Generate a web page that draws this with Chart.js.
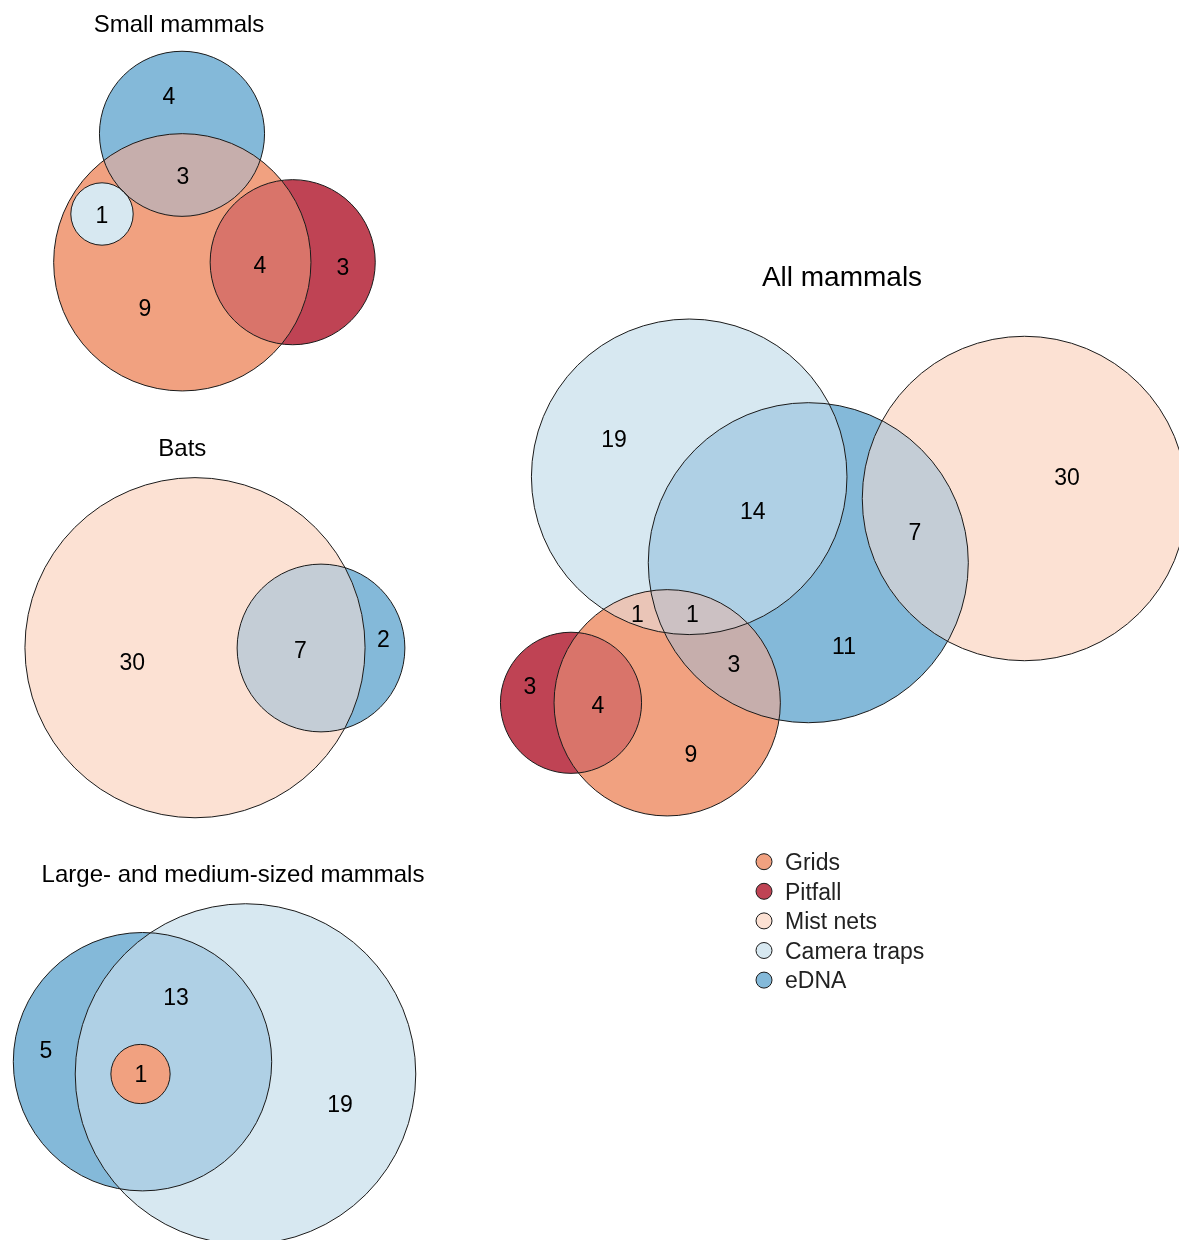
<!DOCTYPE html>
<html>
<head>
<meta charset="utf-8">
<title>Mammal species detected by survey method</title>
<script src="https://cdn.jsdelivr.net/npm/chart.js@4.4.1/dist/chart.umd.min.js"></script>
<style>
  html, body { margin: 0; padding: 0; background: #ffffff; }
  #wrap { position: relative; width: 1179px; height: 1240px; }
</style>
</head>
<body>
<div id="wrap"><canvas id="venn"></canvas></div>
<script>
// ---- data -------------------------------------------------------------
const SETS = ['Grids', 'Pitfall', 'Mist nets', 'Camera traps', 'eDNA'];
const PANEL_TITLES = ['Small mammals', 'Bats', 'Large- and medium-sized mammals', 'All mammals'];

// exclusive regions (which methods detected the species) and species counts
const smallRegionSets = [['eDNA'], ['eDNA', 'Grids'], ['Grids', 'Camera traps'], ['Grids', 'Pitfall'], ['Pitfall'], ['Grids']];
const smallRegionCounts = [4, 3, 1, 4, 3, 9];

const batRegionSets = [['Mist nets'], ['Mist nets', 'eDNA'], ['eDNA']];
const batRegionCounts = [30, 7, 2];

const largeRegionSets = [['eDNA'], ['eDNA', 'Camera traps'], ['Grids', 'eDNA', 'Camera traps'], ['Camera traps']];
const largeRegionCounts = [5, 13, 1, 19];

const allRegionSets = [
  ['Camera traps'], ['Camera traps', 'eDNA'], ['eDNA', 'Mist nets'], ['Mist nets'],
  ['Grids', 'Camera traps'], ['Grids', 'Camera traps', 'eDNA'], ['Grids', 'eDNA'], ['eDNA'],
  ['Pitfall'], ['Pitfall', 'Grids'], ['Grids']
];
const allRegionCounts = [19, 14, 7, 30, 1, 1, 3, 11, 3, 4, 9];

const REGION_SETS = [smallRegionSets, batRegionSets, largeRegionSets, allRegionSets];
const REGION_COUNTS = [smallRegionCounts, batRegionCounts, largeRegionCounts, allRegionCounts];

// ---- layout (Euler fit, plot units) -----------------------------------
const SET_COLORS = ['#F1A180', '#BF4354', '#FCE1D3', '#D7E8F1', '#84B9D9'];
const PANEL_UNIT = [31.2, 27.96, 29.64, 26.67];   // plot units per sqrt(species)
const CIRCLE_CENTRES = [
  { 'Grids': [182.3, 262.3], 'eDNA': [182, 133.8], 'Camera traps': [102, 214], 'Pitfall': [292.7, 262.2] },
  { 'Mist nets': [195, 647.7], 'eDNA': [321, 648] },
  { 'eDNA': [142.5, 1061.7], 'Camera traps': [245.5, 1074], 'Grids': [140.5, 1074] },
  { 'Camera traps': [689.2, 476.8], 'eDNA': [808.3, 562.7], 'Mist nets': [1024.5, 498.5], 'Grids': [667.2, 702.8], 'Pitfall': [571, 702.8] }
];
const LABEL_ANCHORS = [
  [[169, 96], [183, 176], [102, 215], [260, 265], [343, 267], [145, 308]],
  [[132.3, 661.5], [300.3, 649.3], [383.5, 638.3]],
  [[46, 1049.5], [176, 997], [141, 1074], [340, 1104]],
  [[614, 438.3], [752.7, 511], [915, 531.7], [1067, 477], [637.3, 613.3], [692.3, 613.3],
   [734, 663.5], [844, 646], [530, 686], [598, 705], [691, 753.5]]
];
const TITLE_ANCHORS = [[179, 31.7, 24], [182.3, 456, 24], [233, 882, 24], [842, 285.5, 28]];
const LEGEND = { x: 764, y: 861.7, step: 29.6, r: 8, textX: 785, size: 23 };
const NUM_SIZE = 23;
const FONT = '"Liberation Sans", Arial, Helvetica, sans-serif';

// species total per method in a panel = sum of the regions containing it
function setTotal(p, s) {
  return REGION_SETS[p].reduce((t, members, i) => t + (members.includes(s) ? REGION_COUNTS[p][i] : 0), 0);
}

// circle radius in pixels: area proportional to the number of species
function pxRadius(chart, raw) {
  const xs = chart.scales.x;
  if (!raw || !xs) return 0;
  const r = Math.abs(xs.getPixelForValue(raw.x + PANEL_UNIT[raw.panel] * Math.sqrt(raw.n)) - xs.getPixelForValue(raw.x));
  return Number.isFinite(r) ? r : 0;
}

// ---- colour mixing in CIE Lab -------------------------------------------
function hexToRgb(h) {
  const v = parseInt(h.slice(1), 16);
  return [(v >> 16) & 255, (v >> 8) & 255, v & 255];
}
const WHITE = [0.95047, 1, 1.08883];
function toLinear(c) { c /= 255; return c <= 0.04045 ? c / 12.92 : Math.pow((c + 0.055) / 1.055, 2.4); }
function fromLinear(c) {
  const v = c <= 0.0031308 ? 12.92 * c : 1.055 * Math.pow(c, 1 / 2.4) - 0.055;
  return Math.max(0, Math.min(255, Math.round(v * 255)));
}
function labF(t) { return t > 216 / 24389 ? Math.cbrt(t) : (24389 / 27 * t + 16) / 116; }
function labFinv(t) { const t3 = t * t * t; return t3 > 216 / 24389 ? t3 : (116 * t - 16) / (24389 / 27); }
function rgbToLab(rgb) {
  const [r, g, b] = rgb.map(toLinear);
  const X = 0.4124 * r + 0.3576 * g + 0.1805 * b;
  const Y = 0.2126 * r + 0.7152 * g + 0.0722 * b;
  const Z = 0.0193 * r + 0.1192 * g + 0.9505 * b;
  const fx = labF(X / WHITE[0]), fy = labF(Y / WHITE[1]), fz = labF(Z / WHITE[2]);
  return [116 * fy - 16, 500 * (fx - fy), 200 * (fy - fz)];
}
function labToRgb(lab) {
  const fy = (lab[0] + 16) / 116, fx = fy + lab[1] / 500, fz = fy - lab[2] / 200;
  const X = WHITE[0] * labFinv(fx), Y = WHITE[1] * labFinv(fy), Z = WHITE[2] * labFinv(fz);
  const r = 3.2406 * X - 1.5372 * Y - 0.4986 * Z;
  const g = -0.9689 * X + 1.8758 * Y + 0.0415 * Z;
  const b = 0.0557 * X - 0.2040 * Y + 1.0570 * Z;
  return [r, g, b].map(fromLinear);
}
function mixColors(list) {
  const acc = [0, 0, 0];
  list.forEach(c => { const lab = rgbToLab(hexToRgb(c)); for (let k = 0; k < 3; k++) acc[k] += lab[k] / list.length; });
  return 'rgb(' + labToRgb(acc).join(',') + ')';
}

const datasets = SETS.map((s, si) => ({
  label: s,
  backgroundColor: SET_COLORS[si],
  pointBorderWidth: 0,
  showLine: false,
  clip: false,
  data: PANEL_TITLES.map((_, p) => CIRCLE_CENTRES[p][s]
      ? { x: CIRCLE_CENTRES[p][s][0], y: CIRCLE_CENTRES[p][s][1], panel: p, set: s, n: setTotal(p, s) }
      : null).filter(Boolean),
  pointRadius: (c) => pxRadius(c.chart, c.raw)
}));

function isInside(a, b) {
  return Math.hypot(a.x - b.x, a.y - b.y) + a.r <= b.r + 1;
}

// overlaps, outlines, counts, titles and legend
const vennPlugin = {
  id: 'vennRegions',
  afterDatasetsDraw(chart) {
    const ctx = chart.ctx;
    const circles = PANEL_TITLES.map(() => ({}));
    chart.data.datasets.forEach((ds, di) => {
      const meta = chart.getDatasetMeta(di);
      meta.data.forEach((el, j) => {
        const raw = ds.data[j];
        circles[raw.panel][raw.set] = { x: el.x, y: el.y, r: el.options.radius, color: ds.backgroundColor };
      });
    });

    // each shared region takes the mean colour of its methods; a circle lying
    // wholly inside its partners keeps its own colour and is painted last
    const jobs = [];
    REGION_SETS.forEach((list, p) => list.forEach((members) => {
      const cs = members.map(m => circles[p][m]);
      const others = Object.values(circles[p]);
      let nested = null;
      if (cs.length > 1) {
        nested = cs.find(a => cs.every(b => a === b || isInside(a, b)));
      } else if (others.some(o => o !== cs[0] && isInside(cs[0], o))) {
        nested = cs[0];
      }
      if (cs.length === 1 && !nested) return;
      jobs.push({
        cs,
        color: nested ? nested.color : mixColors(cs.map(c => c.color)),
        rank: nested ? 100 : cs.length
      });
    }));
    jobs.sort((a, b) => a.rank - b.rank);

    jobs.forEach(job => {
      ctx.save();
      job.cs.forEach(c => { ctx.beginPath(); ctx.arc(c.x, c.y, c.r, 0, Math.PI * 2); ctx.clip(); });
      ctx.fillStyle = job.color;
      ctx.fillRect(0, 0, chart.width, chart.height);
      ctx.restore();
    });

    // outlines
    ctx.save();
    ctx.strokeStyle = '#1a1a1a';
    ctx.lineWidth = 1;
    circles.forEach(panel => Object.values(panel).forEach(c => {
      ctx.beginPath(); ctx.arc(c.x, c.y, c.r, 0, Math.PI * 2); ctx.stroke();
    }));
    ctx.restore();

    const xs = chart.scales.x, ys = chart.scales.y;
    ctx.save();
    ctx.fillStyle = '#000';
    ctx.textAlign = 'center';
    ctx.textBaseline = 'alphabetic';
    ctx.font = NUM_SIZE + 'px ' + FONT;
    REGION_COUNTS.forEach((counts, p) => counts.forEach((n, i) => {
      const a = LABEL_ANCHORS[p][i];
      ctx.fillText(String(n), xs.getPixelForValue(a[0]), ys.getPixelForValue(a[1]) + NUM_SIZE * 0.358);
    }));

    PANEL_TITLES.forEach((t, p) => {
      const a = TITLE_ANCHORS[p];
      ctx.font = a[2] + 'px ' + FONT;
      ctx.fillText(t, xs.getPixelForValue(a[0]), ys.getPixelForValue(a[1]));
    });

    // legend
    ctx.textAlign = 'left';
    ctx.font = LEGEND.size + 'px ' + FONT;
    chart.data.datasets.forEach((ds, i) => {
      const cy = LEGEND.y + i * LEGEND.step;
      ctx.beginPath();
      ctx.arc(LEGEND.x, cy, LEGEND.r, 0, Math.PI * 2);
      ctx.fillStyle = ds.backgroundColor;
      ctx.fill();
      ctx.strokeStyle = '#1a1a1a';
      ctx.lineWidth = 1;
      ctx.stroke();
      ctx.fillStyle = '#222';
      ctx.fillText(ds.label, LEGEND.textX, cy + LEGEND.size * 0.358);
    });
    ctx.restore();
  }
};

new Chart(document.getElementById('venn'), {
  type: 'scatter',
  data: { datasets },
  options: {
    responsive: true,
    maintainAspectRatio: false,
    animation: false,
    events: [],
    layout: { padding: 0, autoPadding: false },
    plugins: { legend: { display: false }, tooltip: { enabled: false }, title: { display: false } },
    scales: {
      x: { type: 'linear', min: 0, max: 1179, display: false },
      y: { type: 'linear', min: 0, max: 1240, reverse: true, display: false }
    }
  },
  plugins: [vennPlugin]
});
</script>
</body>
</html>
